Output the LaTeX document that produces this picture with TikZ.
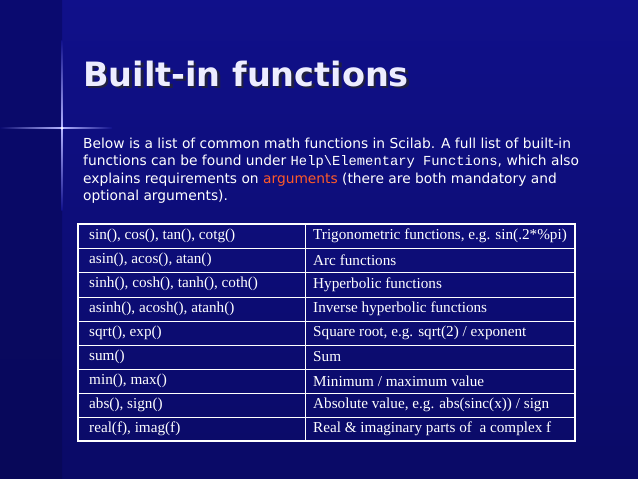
\documentclass[tikz,border=0pt]{standalone}
\usepackage{fontspec}
\setmainfont{DejaVu Sans}
\newfontfamily\tms{Liberation Serif}
\newfontfamily\mono{Liberation Mono}
\definecolor{bgA}{HTML}{10108A}
\definecolor{bgB}{HTML}{0A0A66}
\definecolor{bgL}{HTML}{0A0A70}
\definecolor{bgLB}{HTML}{080858}
\definecolor{argc}{HTML}{FF5A28}
\definecolor{shad}{HTML}{202040}
\begin{document}
\begin{tikzpicture}[x=1pt,y=-1pt,
  cell/.style={anchor=west,text=white,font=\tms\fontsize{15.2}{17}\selectfont,inner sep=0},
  body/.style={anchor=north west,text=white,font=\fontsize{13.8}{17.3}\selectfont,align=left,inner sep=0}]
\useasboundingbox (0,0) rectangle (638,479);
\shade[top color=bgA,bottom color=bgB] (0,0) rectangle (638,479);
\shade[top color=bgL,bottom color=bgLB] (0,0) rectangle (62,479);
% sparkle
\shade[left color=bgL,right color=white!70!blue] (0,127.2) rectangle (62,128.8);
\shade[left color=white!70!blue,right color=bgA] (62,127.3) rectangle (112,128.7);
\shade[top color=bgA,bottom color=white!70!blue] (61.4,40) rectangle (62.6,128);
\shade[top color=white!70!blue,bottom color=bgA] (61.4,128) rectangle (62.6,210);
\fill[white] (62,128) circle (1.5);
% title
\node[anchor=west,text=shad,font=\bfseries\fontsize{33.5}{38}\selectfont,inner sep=0] at (85.5,76.5) {Built-in functions};
\node (title) [anchor=west,text=white!93!blue,font=\bfseries\fontsize{33.5}{38}\selectfont,inner sep=0] at (83,74) {Built-in functions};
% body
\node (body) [body] at (83,138) {Below is a list of common math functions in Scilab. A full list of built-in\\functions can be found under {\mono Help\textbackslash Elementary Functions}, which also\\explains requirements on \textcolor{argc}{arguments} (there are both mandatory and\\optional arguments).};
% table
\draw[white,line width=1.6] (78,224) rectangle (575,441);
\foreach \y in {248,272,297,321,345,369,393,417} \draw[white,line width=0.9] (78,\y) -- (575,\y);
\draw[white,line width=0.9] (305,224) -- (305,441);
\foreach \i/\a/\b in {0/{sin(), cos(), tan(), cotg()}/{Trigonometric functions, e.g. sin(.2*\%pi)},
 1/{asin(), acos(), atan()}/{Arc functions},
 2/{sinh(), cosh(), tanh(), coth()}/{Hyperbolic functions},
 3/{asinh(), acosh(), atanh()}/{Inverse hyperbolic functions},
 4/{sqrt(), exp()}/{Square root, e.g. sqrt(2) / exponent},
 5/{sum()}/{Sum},
 6/{min(), max()}/{Minimum / maximum value},
 7/{abs(), sign()}/{Absolute value, e.g. abs(sinc(x)) / sign},
 8/{real(f), imag(f)}/{Real \& imaginary parts of~ a complex f}}{
  \node (l\i) [cell] at (89,236+24.15*\i) {\a};
  \node (r\i) [cell] at (313,236+24.15*\i) {\b};
}
\end{tikzpicture}
\end{document}
